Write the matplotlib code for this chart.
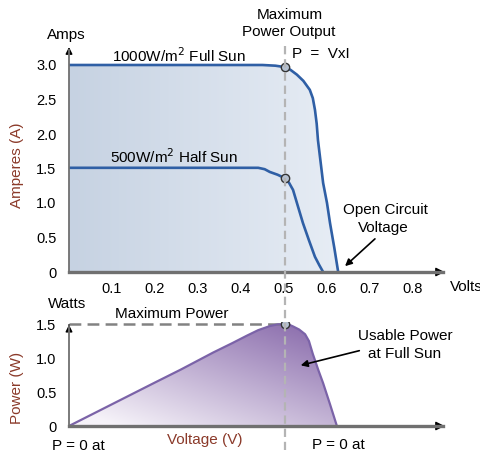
import numpy as np
import matplotlib
matplotlib.use('Agg')
import matplotlib.pyplot as plt
from matplotlib.lines import Line2D
from matplotlib.patches import Polygon, FancyArrowPatch

plt.rcParams['font.family'] = ['Liberation Sans', 'DejaVu Sans']
plt.rcParams['lines.scale_dashes'] = False

# full sun I-V curve
v_full = [0, 0.30, 0.45, 0.48, 0.502, 0.515, 0.530, 0.545, 0.560, 0.567, 0.572,
          0.576, 0.579, 0.585, 0.591, 0.600, 0.607, 0.617, 0.626]
i_full = [3.0, 3.0, 3.0, 2.99, 2.97, 2.93, 2.86, 2.77, 2.64, 2.52, 2.35,
          2.15, 1.91, 1.60, 1.29, 1.00, 0.71, 0.35, 0]
# half sun I-V curve
v_half = [0, 0.30, 0.44, 0.455, 0.467, 0.485, 0.502, 0.512, 0.521, 0.532,
          0.544, 0.558, 0.572, 0.582, 0.591]
i_half = [1.51, 1.51, 1.51, 1.49, 1.45, 1.41, 1.36, 1.29, 1.19, 0.96,
          0.71, 0.46, 0.22, 0.10, 0]
# power curve at full sun
v_pow = [0, 0.10, 0.20, 0.26, 0.335, 0.38, 0.414, 0.44, 0.467, 0.485, 0.502,
         0.512, 0.521, 0.535, 0.549, 0.558, 0.567, 0.580, 0.591, 0.607, 0.623]
p_pow = [0, 0.32, 0.64, 0.83, 1.08, 1.22, 1.33, 1.41, 1.47, 1.495, 1.50,
         1.49, 1.465, 1.42, 1.35, 1.25, 1.06, 0.82, 0.63, 0.32, 0]

v_mpp = 0.502
i_mpp_full = 2.97
i_mpp_half = 1.36
p_max = 1.50

x_ticks = [0.1, 0.2, 0.3, 0.4, 0.5, 0.6, 0.7, 0.8]
amp_ticks = [0, 0.5, 1.0, 1.5, 2.0, 2.5, 3.0]
amp_labels = ['0', '0.5', '1.0', '1.5', '2.0', '2.5', '3.0']
watt_ticks = [0, 0.5, 1.0, 1.5]
watt_labels = ['0', '0.5', '1.0', '1.5']

W, H = 481, 450
fig = plt.figure(figsize=(W / 100, H / 100), dpi=100)


def px(x, y):
    return x / W, 1 - y / H


ax1 = fig.add_axes([69 / W, (H - 272) / H, 378.4 / W, 227.7 / H])
ax2 = fig.add_axes([69 / W, (H - 426) / H, 378.4 / W, 104 / H])
ax1.set_xlim(0, 0.88)
ax1.set_ylim(0, 3.3)
ax2.set_xlim(0, 0.88)
ax2.set_ylim(0, 1.53)

for ax in (ax1, ax2):
    for s in ax.spines.values():
        s.set_visible(False)
    ax.patch.set_alpha(0)

# gradient fill under the full sun curve
poly1 = Polygon(list(zip(v_full, i_full)) + [(v_full[-1], 0), (0, 0)],
                closed=True, facecolor='none', edgecolor='none')
ax1.add_patch(poly1)
g = np.linspace(0, 1, 200)[None, :]
c_left = np.array([198, 210, 226]) / 255
c_right = np.array([231, 237, 245]) / 255
img1 = c_left[None, None, :] * (1 - g[..., None]) + c_right[None, None, :] * g[..., None]
im = ax1.imshow(img1, extent=[0, 0.63, 0, 3.0], aspect='auto', zorder=1)
im.set_clip_path(poly1)

ax1.plot(v_full, i_full, color='#2f5fa5', lw=1.9, zorder=3)
ax1.plot(v_half, i_half, color='#2f5fa5', lw=1.9, zorder=3)
ax1.plot([v_mpp, v_mpp], [i_mpp_full, i_mpp_half], ls='none', marker='o', ms=6,
         mfc='#b4c0d0', mec='#333333', mew=1, zorder=5)

ax1.set_xticks(x_ticks)
ax1.set_xticklabels(['%.1f' % t for t in x_ticks])
ax1.set_yticks(amp_ticks)
ax1.set_yticklabels(amp_labels)
ax1.tick_params(length=0, labelsize=10.5, pad=7)
ax1.tick_params(axis='y', pad=9)

# axes lines with arrows
ax1.plot([0, 0.87], [0, 0], color='#707070', lw=2.4, zorder=4, clip_on=False)
ax1.annotate('', xy=(0.88, 0), xytext=(0.86, 0),
             arrowprops=dict(arrowstyle='-|>', color='black', lw=1, mutation_scale=13),
             annotation_clip=False)
ax1.plot([0, 0], [0, 3.22], color='#707070', lw=1.3, zorder=4, clip_on=False)
ax1.annotate('', xy=(0, 3.3), xytext=(0, 3.15),
             arrowprops=dict(arrowstyle='-|>', color='black', lw=1, mutation_scale=10),
             annotation_clip=False)

# power plot
poly2 = Polygon(list(zip(v_pow, p_pow)), closed=True, facecolor='none', edgecolor='none')
ax2.add_patch(poly2)
xx, yy = np.meshgrid(np.linspace(0, 0.63, 200), np.linspace(0, 1.5, 150))
t = np.clip(0.55 * xx / 0.62 + 0.6 * yy / 1.5 - 0.1, 0, 1)[::-1]
c_lo = np.array([246, 243, 249]) / 255
c_hi = np.array([138, 108, 172]) / 255
img2 = c_lo * (1 - t[..., None]) + c_hi * t[..., None]
im2 = ax2.imshow(img2, extent=[0, 0.63, 0, 1.5], aspect='auto', zorder=1)
im2.set_clip_path(poly2)
ax2.plot(v_pow, p_pow, color='#7b63a8', lw=1.6, zorder=3)

ax2.plot([0, v_mpp], [p_max, p_max], color='#828282', lw=1.8, zorder=2,
         dashes=(8.5, 4.5))
ax2.plot([v_mpp], [p_max], ls='none', marker='o', ms=6,
         mfc='#b4c0d0', mec='#333333', mew=1, zorder=5)

ax2.set_xticks([])
ax2.set_yticks(watt_ticks)
ax2.set_yticklabels(watt_labels)
ax2.tick_params(length=0, labelsize=10.5, pad=9)

ax2.plot([0, 0.87], [0, 0], color='#707070', lw=2.4, zorder=4, clip_on=False)
ax2.annotate('', xy=(0.88, 0), xytext=(0.86, 0),
             arrowprops=dict(arrowstyle='-|>', color='black', lw=1, mutation_scale=13),
             annotation_clip=False)
ax2.plot([0, 0], [0, 1.47], color='#707070', lw=1.3, zorder=4, clip_on=False)
ax2.annotate('', xy=(0, 1.53), xytext=(0, 1.44),
             arrowprops=dict(arrowstyle='-|>', color='black', lw=1, mutation_scale=10),
             annotation_clip=False)

# vertical dashed line through the maximum power point
x0, _ = px(285, 0)
fig.add_artist(Line2D([x0, x0], [px(0, 46)[1], px(0, 450)[1]], color='#b4b4b4',
                      lw=1.6, dashes=(6, 3.5), zorder=2))

# texts
brown = '#8b3a2a'
fs = 11
fig.text(*px(66, 35), 'Amps', ha='center', va='center', fontsize=fs)
fig.text(*px(112, 56), '1000W/m$^2$ Full Sun', ha='left', va='center', fontsize=fs)
fig.text(*px(110, 157), '500W/m$^2$ Half Sun', ha='left', va='center', fontsize=fs)
fig.text(*px(290, 15), 'Maximum', ha='center', va='center', fontsize=fs)
fig.text(*px(289, 32), 'Power Output', ha='center', va='center', fontsize=fs)
fig.text(*px(292, 54), 'P  =  VxI', ha='left', va='center', fontsize=fs)
fig.text(*px(385, 210), 'Open Circuit', ha='center', va='center', fontsize=fs)
fig.text(*px(383, 228), 'Voltage', ha='center', va='center', fontsize=fs)
fig.text(*px(17, 165), 'Amperes (A)', ha='center', va='center', rotation=90,
         fontsize=fs, color=brown)
fig.text(*px(450, 287), 'Volts', ha='left', va='center', fontsize=fs)
fig.text(*px(67, 304), 'Watts', ha='center', va='center', fontsize=fs)
fig.text(*px(172, 314), 'Maximum Power', ha='center', va='center', fontsize=fs)
fig.text(*px(405, 336), 'Usable Power', ha='center', va='center', fontsize=fs)
fig.text(*px(405, 354), 'at Full Sun', ha='center', va='center', fontsize=fs)
fig.text(*px(17, 388), 'Power (W)', ha='center', va='center', rotation=90,
         fontsize=fs, color=brown)
fig.text(*px(205, 440), 'Voltage (V)', ha='center', va='center', fontsize=fs, color=brown)
fig.text(*px(52, 446), 'P = 0 at', ha='left', va='center', fontsize=fs)
fig.text(*px(312, 445), 'P = 0 at', ha='left', va='center', fontsize=fs)

# pointer arrows
fig.add_artist(FancyArrowPatch(px(377, 237), px(343, 268), transform=fig.transFigure,
                               arrowstyle='-|>', mutation_scale=10, color='black', lw=1.2))
fig.add_artist(FancyArrowPatch(px(362, 350), px(298, 366), transform=fig.transFigure,
                               arrowstyle='-|>', mutation_scale=10, color='black', lw=1.2))

fig.savefig('out.png', dpi=100)
